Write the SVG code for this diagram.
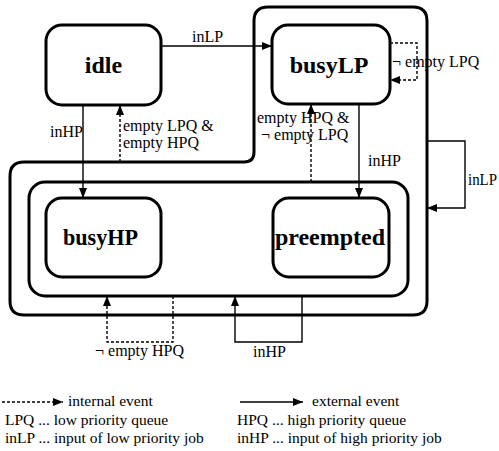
<svg xmlns="http://www.w3.org/2000/svg" width="499" height="451" viewBox="0 0 499 451">
<style>
.box{fill:none;stroke:#000;stroke-width:3}
.cont{fill:none;stroke:#000;stroke-width:3}
.ext{fill:none;stroke:#000;stroke-width:1.4}
.int{fill:none;stroke:#000;stroke-width:1.4;stroke-dasharray:3 2}
.nl{font-family:"Liberation Serif",serif;font-weight:bold;font-size:24px;text-anchor:middle}
.lb{font-family:"Liberation Serif",serif;font-size:16px}
.lg{font-family:"Liberation Serif",serif;font-size:15.5px}
</style>
<defs>
<marker id="ah" viewBox="0 0 10 8" refX="10" refY="4" markerWidth="10" markerHeight="8" markerUnits="userSpaceOnUse" orient="auto">
<path d="M0,0 L10,4 L0,8 Z" fill="#000"/>
</marker>
</defs>
<rect width="499" height="451" fill="#fff"/>
<g id="outer"><path class="cont" d="M268,7 H413 Q427,7 427,21 V301 Q427,315 413,315 H24 Q10,315 10,301 V176 Q10,162 24,162 H244 Q254,162 254,152 V21 Q254,7 268,7 Z"/></g>
<g id="inner"><rect class="cont" x="29" y="182" width="379" height="114" rx="16"/></g>
<g id="idle"><rect class="box" x="46" y="25" width="115" height="80" rx="16"/><text class="nl" x="103.5" y="73">idle</text></g>
<g id="busyLP"><rect class="box" x="272" y="25" width="118" height="79" rx="16"/><text class="nl" x="329" y="73">busyLP</text></g>
<g id="busyHP"><rect class="box" x="46" y="198" width="115" height="79" rx="16"/><text class="nl" x="100.5" y="245" textLength="75" lengthAdjust="spacingAndGlyphs">busyHP</text></g>
<g id="preempted"><rect class="box" x="273" y="198" width="116" height="79" rx="16"/><text class="nl" x="330" y="245">preempted</text></g>
<g id="connectors">
<path class="ext" d="M161,46 H272" marker-end="url(#ah)"/>
<path class="ext" d="M83,105 V198" marker-end="url(#ah)"/>
<path class="int" d="M120,162 V105" marker-end="url(#ah)"/>
<path class="int" d="M390,43 H417 V80 H390" marker-end="url(#ah)"/>
<path class="int" d="M311,182 V104" marker-end="url(#ah)"/>
<path class="ext" d="M359,104 V198" marker-end="url(#ah)"/>
<path class="ext" d="M427,141 H465 V208 H427" marker-end="url(#ah)"/>
<path class="int" d="M173,296 V342 H107 V296" marker-end="url(#ah)"/>
<path class="ext" d="M302,296 V342 H235 V296" marker-end="url(#ah)"/>
</g>
<g id="labels">
<text class="lb" x="192" y="42">inLP</text>
<text class="lb" x="50" y="137">inHP</text>
<text class="lb" x="123" y="131">empty LPQ &amp;</text>
<text class="lb" x="123" y="148">empty HPQ</text>
<text class="lb" x="392" y="67">¬ empty LPQ</text>
<text class="lb" x="257" y="123">empty HPQ &amp;</text>
<text class="lb" x="261" y="140">¬ empty LPQ</text>
<text class="lb" x="368" y="166">inHP</text>
<text class="lb" x="468" y="185" textLength="29" lengthAdjust="spacingAndGlyphs">inLP</text>
<text class="lb" x="95" y="356">¬ empty HPQ</text>
<text class="lb" x="253" y="357">inHP</text>
</g>
<g id="legend">
<path class="int" d="M2,402 H63" marker-end="url(#ah)"/>
<text class="lg" x="68" y="406">internal event</text>
<path class="ext" d="M240,402 H303" marker-end="url(#ah)"/>
<text class="lg" x="312" y="406">external event</text>
<text class="lg" x="5" y="425">LPQ ... low priority queue</text>
<text class="lg" x="237" y="425">HPQ ... high priority queue</text>
<text class="lg" x="5" y="443">inLP ... input of low priority job</text>
<text class="lg" x="237" y="443">inHP ... input of high priority job</text>
</g>
</svg>
